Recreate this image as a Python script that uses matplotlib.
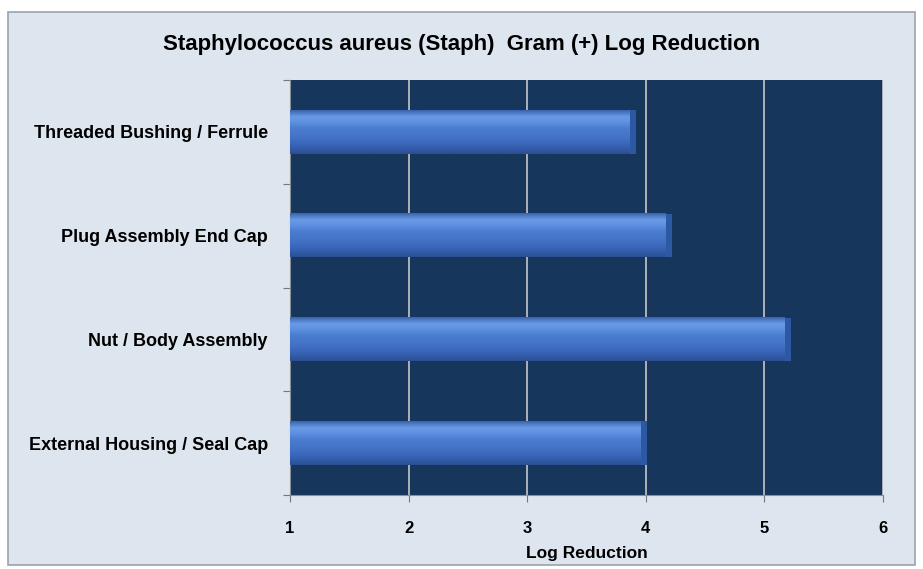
import numpy as np
import matplotlib.pyplot as plt
from matplotlib.patches import Rectangle
from matplotlib.colors import LinearSegmentedColormap

# ============================== data =========================================

categories = ["External Housing / Seal Cap", "Nut / Body Assembly",
              "Plug Assembly End Cap", "Threaded Bushing / Ferrule"]
log_reduction = [4.01, 5.22, 4.22, 3.92]
x_ticks = [1, 2, 3, 4, 5, 6]

TITLE = "Staphylococcus aureus (Staph)  Gram (+) Log Reduction"
XLABEL = "Log Reduction"
AXIS_START = 1

# ============================== plot =========================================

plt.rcParams['font.family'] = ['Liberation Sans', 'DejaVu Sans']

fig = plt.figure(figsize=(9.23, 5.69), dpi=100, facecolor="white")

# light panel behind the chart
panel = Rectangle((0.009, 0.007), 0.982, 0.972, transform=fig.transFigure,
                  facecolor="#dde5ef", edgecolor="#9aa3ad", linewidth=1.2, zorder=-5)
fig.patches.append(panel)

ax = fig.add_axes([0.3142, 0.130, 0.6425, 0.7294])
ax.set_facecolor("#16365c")

y = np.arange(len(categories))
widths = np.array(log_reduction) - AXIS_START
bars = ax.barh(y, widths, left=AXIS_START, height=0.42, color="#4674c4",
               edgecolor="none", zorder=3)

# vertical shading on each bar (bottom -> top)
bar_cmap = LinearSegmentedColormap.from_list(
    "bar", ["#2c4f94", "#3560b0", "#3f6cc0", "#4676c8", "#4a7bcc", "#5b8fe0", "#6a9be6", "#3c66b2"])
shade = np.linspace(0, 1, 40).reshape(-1, 1)
for b in bars:
    x0, y0, w, h = b.get_x(), b.get_y(), b.get_width(), b.get_height()
    ax.imshow(shade, cmap=bar_cmap, aspect="auto",
              extent=(x0, x0 + w - 0.05, y0, y0 + h), origin="lower",
              zorder=4, interpolation="bilinear")
    ax.add_patch(Rectangle((x0 + w - 0.05, y0), 0.05, h, facecolor="#2d58a4",
                           edgecolor="none", zorder=4))

ax.set_xlim(AXIS_START, 6)
ax.set_ylim(-0.5, len(categories) - 0.5)
ax.set_xticks(x_ticks)
ax.set_xticklabels([str(t) for t in x_ticks], fontsize=12, fontweight="bold")
ax.set_yticks(np.arange(len(categories) + 1) - 0.5, minor=False)
ax.set_yticklabels([])
ax.set_yticks(y, minor=True)
ax.set_yticklabels(categories, minor=True, fontsize=13, fontweight="bold")
ax.tick_params(axis="y", which="minor", length=0, pad=16)
ax.tick_params(axis="y", which="major", length=5, color="#777777", direction="out")
ax.tick_params(axis="x", length=5, color="#777777", pad=14)

ax.grid(True, axis="x", color="#b8bcc2", linewidth=1.3, zorder=1)
ax.set_axisbelow(True)
for side in ["top", "right"]:
    ax.spines[side].set_visible(False)
ax.spines["left"].set_color("#8a8f96")
ax.spines["bottom"].set_color("#8a8f96")

ax.set_xlabel(XLABEL, fontsize=12.5, fontweight="bold", labelpad=7)
fig.text(0.5, 0.921, TITLE, ha="center", va="center", fontsize=16, fontweight="bold")

plt.savefig("out.png", dpi=100)
